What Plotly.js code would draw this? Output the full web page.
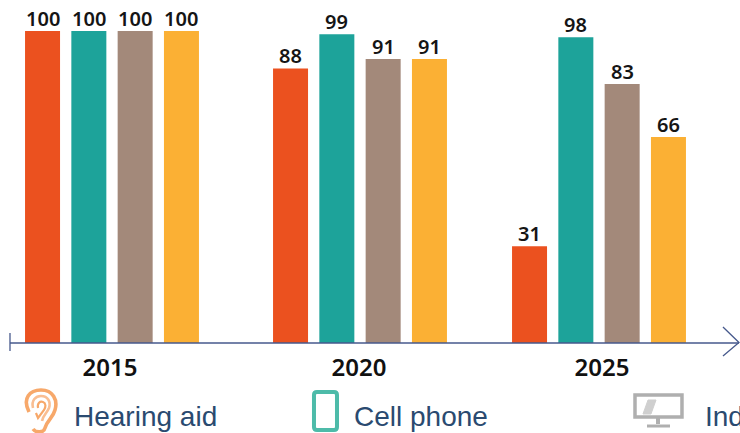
<!DOCTYPE html>
<html><head><meta charset="utf-8">
<script src="https://cdn.plot.ly/plotly-3.0.1.min.js"></script>
<style>html,body{margin:0;padding:0;background:#fff;overflow:hidden}</style>
</head><body><div id="c" style="width:740px;height:433px"></div>
<script>
const years = ['2015','2020','2025'];
const groupCentres = [0, 248, 487];
const yearLabelAt = [-2, 247, 490];
const hearingAid = [100, 88, 31];
const cellPhone = [100, 99, 98];
const indoorMonitor = [100, 91, 83];
const fourth = [100, 91, 66];
const seriesColors = ['#EB511F','#1DA39A','#A3897A','#FBB034'];
const legendLabels = ['Hearing aid','Cell phone','Ind'];

const W = 740, H = 433;
const px = x => x / W, py = y => 1 - y / 343; // paper coords: plot area is the top 343px
const P = (x, y) => `${px(x).toFixed(4)} ${py(y).toFixed(4)}`;
const mk = (pts) => 'M' + pts.map(p => P(p[0], p[1])).join(' L');
const line = (pts, color, width) => ({type:'path', xref:'paper', yref:'paper', layer:'above',
  path: mk(pts), line:{color, width}, fillcolor:'rgba(0,0,0,0)'});

const curve = (d, color, width, fill) => ({type:'path', xref:'paper', yref:'paper', layer:'above',
  path: d.replace(/(-?\d+(?:\.\d+)?),(-?\d+(?:\.\d+)?)/g, (m, a, b) => P(+a, +b).replace(' ', ',')),
  line:{color, width}, fillcolor: fill || 'rgba(0,0,0,0)'});

const axisColor = '#46598C';
const shapes = [
  line([[10,343],[739,343]], axisColor, 1.3),
  line([[10,333],[10,351]], axisColor, 1.3),
  line([[723,327],[739,342.5],[723,356]], axisColor, 1.3),
  // ear icon
  curve('M29,412 C22,398 30,390 41,390 C53,390 58,400 55,410 C53,418 47,420 45,428 C44,433 36,433 33,429', '#F7A86A', 3.6),
  curve('M33,408 C31,400 36,396 41,396 C48,396 51,402 49,408 C47,413 43,415 42,421', '#F9BE92', 2.6),
  curve('M38,408 C37,403 40,401 43,402 C46,403 46,407 44,410 L38,418 L36,413', '#F7A86A', 2.2),
  // phone icon
  curve('M317,392 L334,392 C336,392 337,393 337,395 L337,427 C337,429 336,430 334,430 L317,430 C315,430 314,429 314,427 L314,395 C314,393 315,392 317,392 Z', '#4DBBA9', 4),
  // monitor icon
  curve('M635,395 L682,395 L682,417 L635,417 Z', '#AFAFAF', 3.5),
  curve('M643,414 L648,400 L656,400 L651,414 Z', '#CFCFCF', 1, '#CFCFCF'),
  line([[658,418],[658,424]], '#AFAFAF', 4),
  line([[647,426],[670,426]], '#AFAFAF', 3)
];

const allSeries = [hearingAid, cellPhone, indoorMonitor, fourth];
const mkBar = (vals, color) => ({type:'bar', x:groupCentres, y:vals,
  marker:{color, line:{width:0}}, hoverinfo:'skip', showlegend:false});

const barPitch = 46.3;
const valueLabels = [];
allSeries.forEach((vals, s) => vals.forEach((v, g) => valueLabels.push({
  text:String(v), xref:'x', yref:'y', x:groupCentres[g] + (s - 1.5) * barPitch, y:v,
  xanchor:'center', yanchor:'middle', yshift:13, showarrow:false, borderpad:0,
  font:{family:'"Noto Sans", sans-serif', size:20, color:'#151515', weight:600}})));

const legendFont = {family:'"Liberation Sans", Arial, sans-serif', size:28, color:'#2A4A70'};
const legendAt = [73, 352.5, 704];
const annotations = valueLabels.concat(legendLabels.map((t,i) => ({text:t, xref:'paper', yref:'paper', x:px(legendAt[i]), y:py(416),
  xanchor:'left', yanchor:'middle', showarrow:false, font:legendFont, borderpad:0, align:'left'})));

Plotly.newPlot('c',
  allSeries.map((vals, i) => mkBar(vals, seriesColors[i])),
  {width:W, height:H, margin:{l:0,r:0,t:0,b:90,pad:0}, paper_bgcolor:'#fff', plot_bgcolor:'#fff',
   barmode:'group', bargap:0.225, bargroupgap:0.244,
   xaxis:{range:[-112,628], tickmode:'array', tickvals:yearLabelAt, ticktext:years, showgrid:false, zeroline:false,
          showline:false, ticks:'outside', ticklen:3, tickcolor:'rgba(0,0,0,0)',
          tickfont:{family:'"Noto Sans", sans-serif', size:24, color:'#111', weight:600}},
   yaxis:{range:[0,109.94], visible:false, showgrid:false, zeroline:false},
   shapes, annotations, showlegend:false},
  {staticPlot:true, displayModeBar:false});
</script></body></html>
